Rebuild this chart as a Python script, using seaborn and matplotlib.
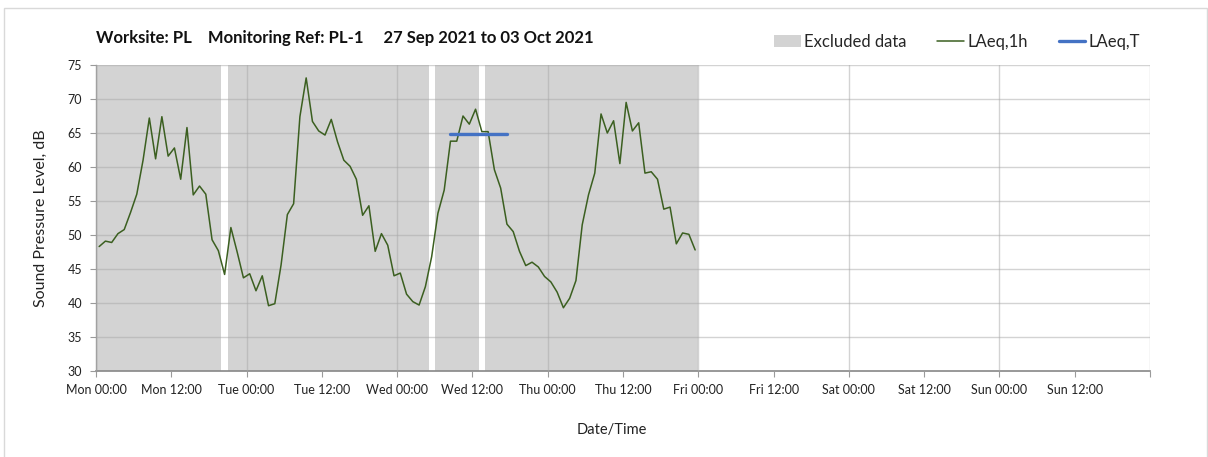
import matplotlib
matplotlib.use("Agg")
import matplotlib.pyplot as plt
import seaborn as sns
import numpy as np
import pandas as pd
from matplotlib.patches import Patch, Rectangle
from matplotlib.lines import Line2D

# hourly LAeq,1h values, Mon 00:00 .. Thu 23:00
laeq_1h = [48.3, 49.1, 48.9, 50.2, 50.8, 53.3, 56.0, 61.0, 67.2, 61.2,
           67.4, 61.6, 62.8, 58.2, 65.8, 55.9, 57.2, 56.0, 49.3, 47.7,
           44.2, 51.1, 47.5, 43.7, 44.3, 41.8, 44.0, 39.6, 39.9, 45.6,
           53.0, 54.6, 67.4, 73.1, 66.7, 65.3, 64.7, 67.0, 63.7, 61.0,
           60.1, 58.2, 52.9, 54.3, 47.6, 50.2, 48.5, 44.0, 44.4, 41.3,
           40.2, 39.7, 42.4, 46.8, 53.2, 56.6, 63.8, 63.8, 67.5, 66.3,
           68.5, 65.2, 65.2, 59.6, 56.9, 51.6, 50.5, 47.6, 45.5, 46.0,
           45.3, 43.9, 43.1, 41.6, 39.3, 40.7, 43.3, 51.5, 55.9, 59.1,
           67.8, 65.0, 66.8, 60.5, 69.5, 65.3, 66.5, 59.1, 59.3, 58.2,
           53.8, 54.1, 48.7, 50.3, 50.1, 47.8]
start_hour = 0

# LAeq,T over the assessment period
laeq_t_value = 64.9
laeq_t_hours = [56, 65]

# excluded data: every hour up to Fri 00:00 except these
excluded_end_hour = 96
not_excluded_hours = [20, 53, 61]

tick_labels = ["Mon 00:00", "Mon 12:00", "Tue 00:00", "Tue 12:00", "Wed 00:00",
               "Wed 12:00", "Thu 00:00", "Thu 12:00", "Fri 00:00", "Fri 12:00",
               "Sat 00:00", "Sat 12:00", "Sun 00:00", "Sun 12:00", ""]

sns.set_theme(style="white")
plt.rcParams["font.family"] = ["Lato", "DejaVu Sans"]

green = "#3B5F20"
blue = "#4472C4"
shade = "#D3D3D3"

fig = plt.figure(figsize=(12.08, 4.57), dpi=100)
ax = fig.add_axes([96 / 1208, 1 - 371 / 457, (1150 - 96) / 1208, (371 - 65) / 457])

hours = np.arange(len(laeq_1h)) + start_hour + 0.5
df = pd.DataFrame({"hour": hours, "LAeq": laeq_1h})

ex_hours = [h for h in range(excluded_end_hour) if h not in not_excluded_hours]
ax.bar(ex_hours, [75 - 30] * len(ex_hours), bottom=30, width=1.0, align="edge",
       color=shade, linewidth=0, zorder=0.5)

sns.lineplot(data=df, x="hour", y="LAeq", color=green, linewidth=1.1, ax=ax, zorder=3)

t_df = pd.DataFrame({"hour": [laeq_t_hours[0] + 0.5, laeq_t_hours[1] + 0.5],
                     "v": [laeq_t_value, laeq_t_value]})
sns.lineplot(data=t_df, x="hour", y="v", color=blue, linewidth=2.4, ax=ax, zorder=4)

ax.set_xlim(0, 168)
ax.set_ylim(30, 75)
ax.set_yticks(range(30, 76, 5))
ax.set_xticks(range(0, 169, 24))
ax.set_xticklabels(tick_labels[0::2])
ax.set_xticks(range(12, 168, 24), minor=True)
ax.set_xticklabels(tick_labels[1::2][:7], minor=True)

ax.set_axisbelow(False)
ax.grid(True, which="major", axis="both", color="#a8a8a8", alpha=0.5, linewidth=1.0, zorder=2)
ax.grid(False, which="minor")

for s in ["top", "right"]:
    ax.spines[s].set_visible(False)
ax.spines["left"].set_color("#9a9a9a")
ax.spines["bottom"].set_color("#868686")
ax.spines["left"].set_linewidth(1.0)
ax.spines["bottom"].set_linewidth(1.2)

ax.tick_params(axis="both", which="both", direction="out", length=4, width=0.8,
               color="#9a9a9a", labelsize=9, labelcolor="#222222")
ax.tick_params(axis="x", which="both", pad=5, bottom=True)
ax.tick_params(axis="y", pad=6, left=True)

ax.set_xlabel("Date/Time", fontsize=10.5, color="#222222", labelpad=19)
ax.xaxis.set_label_coords((612 - 96) / 1054, -0.17)
ax.set_ylabel("Sound Pressure Level, dB", fontsize=11.5, color="#222222", labelpad=14)

fig.text(96 / 1208, 1 - 38 / 457, "Worksite: PL    Monitoring Ref: PL-1     27 Sep 2021 to 03 Oct 2021",
         fontsize=12, fontweight="bold", color="#111111", va="center", ha="left")

handles = [Patch(facecolor=shade, edgecolor="none"),
           Line2D([0], [0], color=green, linewidth=1.1),
           Line2D([0], [0], color=blue, linewidth=2.4)]
fig.legend(handles, ["Excluded data", "LAeq,1h", "LAeq,T"], ncol=3, frameon=False,
           loc="center left", bbox_to_anchor=(774 / 1208, 1 - 42 / 457),
           fontsize=12, handlelength=1.6, handleheight=0.7, handletextpad=0.2,
           columnspacing=1.85, borderpad=0, borderaxespad=0)

fig.add_artist(Rectangle((4 / 1208, -0.01), 1203 / 1208, 1 - 8 / 457 + 0.01,
                         transform=fig.transFigure, fill=False,
                         edgecolor="#d9d9d9", linewidth=1.0))

fig.savefig("out.png", dpi=100)
